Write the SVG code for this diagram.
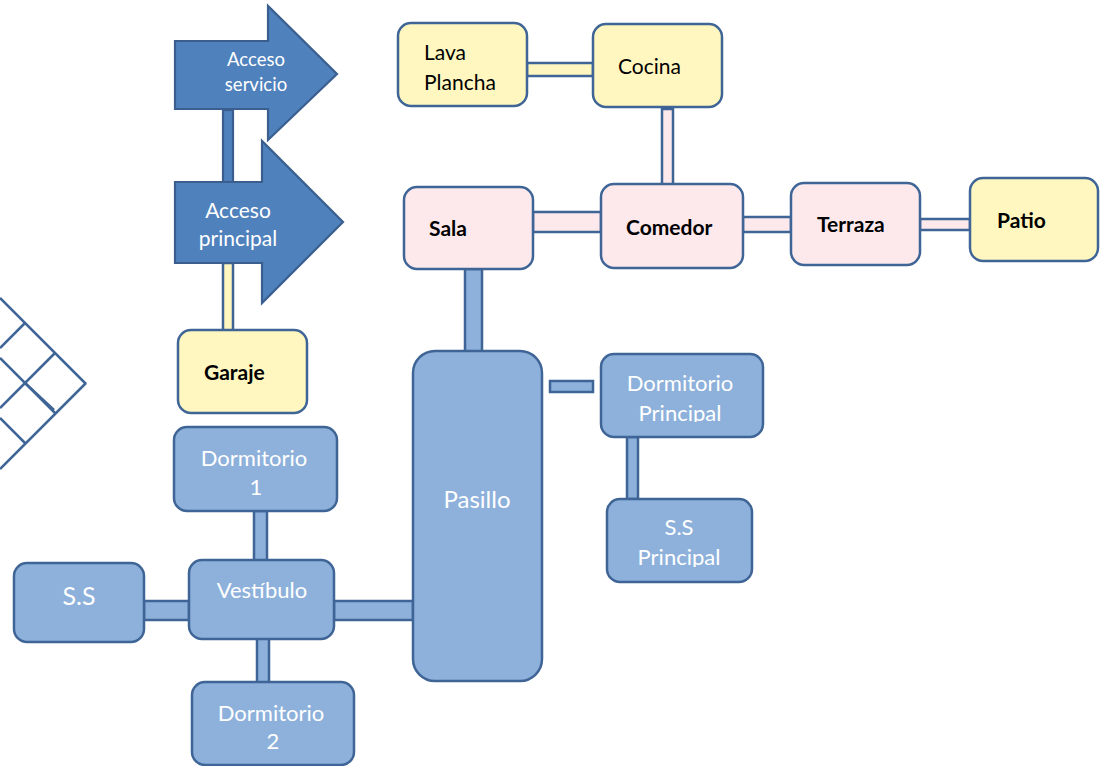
<svg xmlns="http://www.w3.org/2000/svg" width="1100" height="766" viewBox="0 0 1100 766">
<style>
.arrow{fill:#4f81bd;stroke:#3a5f8f;stroke-width:2.2}
.bl{fill:#8eb1db;stroke:#3f6597;stroke-width:2.5}
.ye{fill:#fff7bf;stroke:#3f6597;stroke-width:2.5}
.pk{fill:#fde9ec;stroke:#3f6597;stroke-width:2.5}
.dk{fill:#4f81bd;stroke:#3a5f8f;stroke-width:2.2}
.grid{stroke:#3f6597;stroke-width:2.5;fill:none}
text{font-family:Lato,"Open Sans","Liberation Sans",sans-serif}
.w{fill:#ffffff;text-anchor:middle;font-size:22px}
.k{fill:#000000;font-size:21px}
.kb{fill:#000000;font-size:21px;font-weight:bold}
</style>
<defs>
<clipPath id="clipDP"><rect x="600" y="350" width="170" height="72"/></clipPath>
<clipPath id="clipSP"><rect x="600" y="495" width="170" height="72"/></clipPath>
</defs>

<g id="grid-decoration" class="grid">
<line x1="0" y1="298" x2="86" y2="384"/>
<line x1="86" y1="383" x2="0" y2="469"/>
<line x1="0" y1="358" x2="56" y2="414"/>
<line x1="25" y1="383" x2="54" y2="410"/>
<line x1="0" y1="418" x2="26" y2="444"/>
<line x1="55" y1="353" x2="0" y2="408"/>
<line x1="25" y1="323" x2="0" y2="348"/>
</g>

<g id="connectors">
<rect class="dk" x="223" y="110" width="10" height="72"/>
<rect class="ye" x="223" y="263" width="10" height="68"/>
<rect class="ye" x="527" y="63" width="66" height="13"/>
<rect class="pk" x="662" y="109" width="11" height="76"/>
<rect class="pk" x="533" y="212" width="68" height="20"/>
<rect class="pk" x="743" y="217" width="48" height="15"/>
<rect class="pk" x="920" y="219" width="50" height="11"/>
<rect class="bl" x="465" y="269" width="17" height="83"/>
<rect class="bl" x="550" y="381" width="43" height="11"/>
<rect class="bl" x="627" y="437" width="11" height="62"/>
<rect class="bl" x="254" y="511" width="13" height="50"/>
<rect class="bl" x="144" y="601" width="45" height="19"/>
<rect class="bl" x="334" y="601" width="79" height="19"/>
<rect class="bl" x="257" y="633" width="12" height="50"/>
</g>

<g id="acceso-servicio">
<path class="arrow" d="M175,41 H268 V6 L337,74 L268,140 V109 H175 Z"/>
<text class="w" x="256" y="66" style="font-size:18.5px">Acceso</text>
<text class="w" x="256" y="91" style="font-size:18.5px">servicio</text>
</g>

<g id="acceso-principal">
<path class="arrow" d="M175,182 H262 V141 L343,222 L262,303 V263 H175 Z"/>
<text class="w" x="238" y="218" style="font-size:21px">Acceso</text>
<text class="w" x="238" y="246" style="font-size:21px">principal</text>
</g>

<g id="garaje">
<rect class="ye" x="178" y="330" width="129" height="83" rx="13"/>
<text class="kb" x="204" y="380">Garaje</text>
</g>

<g id="lava-plancha">
<rect class="ye" x="398" y="23" width="129" height="83" rx="13"/>
<text class="k" x="424" y="60">Lava</text>
<text class="k" x="424" y="90">Plancha</text>
</g>

<g id="cocina">
<rect class="ye" x="593" y="24" width="129" height="83" rx="13"/>
<text class="k" x="618" y="74">Cocina</text>
</g>

<g id="sala">
<rect class="pk" x="404" y="187" width="129" height="82" rx="13"/>
<text class="kb" x="429" y="236">Sala</text>
</g>

<g id="comedor">
<rect class="pk" x="601" y="184" width="142" height="84" rx="13"/>
<text class="kb" x="626" y="235">Comedor</text>
</g>

<g id="terraza">
<rect class="pk" x="791" y="183" width="129" height="82" rx="13"/>
<text class="kb" x="817" y="232">Terraza</text>
</g>

<g id="patio">
<rect class="ye" x="970" y="178" width="128" height="83" rx="13"/>
<text class="kb" x="997" y="228">Patio</text>
</g>

<g id="pasillo">
<rect class="bl" x="413" y="351" width="129" height="330" rx="22"/>
<text class="w" x="477" y="508" style="font-size:24px">Pasillo</text>
</g>

<g id="dormitorio-principal">
<rect class="bl" x="601" y="354" width="162" height="83" rx="13"/>
<text class="w" x="680" y="391">Dormitorio</text>
<text class="w" x="680" y="421" clip-path="url(#clipDP)">Principal</text>
</g>

<g id="ss-principal">
<rect class="bl" x="607" y="499" width="145" height="83" rx="13"/>
<text class="w" x="679" y="535">S.S</text>
<text class="w" x="679" y="565" clip-path="url(#clipSP)">Principal</text>
</g>

<g id="dormitorio-1">
<rect class="bl" x="174" y="427" width="163" height="84" rx="13"/>
<text class="w" x="254" y="466">Dormitorio</text>
<text class="w" x="256" y="495">1</text>
</g>

<g id="vestibulo">
<rect class="bl" x="189" y="560" width="145" height="79" rx="13"/>
<text class="w" x="262" y="598">Vestíbulo</text>
</g>

<g id="ss">
<rect class="bl" x="14" y="563" width="130" height="79" rx="13"/>
<text class="w" x="79" y="605" style="font-size:25px">S.S</text>
</g>

<g id="dormitorio-2">
<rect class="bl" x="192" y="682" width="162" height="83" rx="13"/>
<text class="w" x="271" y="721">Dormitorio</text>
<text class="w" x="273" y="749">2</text>
</g>
</svg>
